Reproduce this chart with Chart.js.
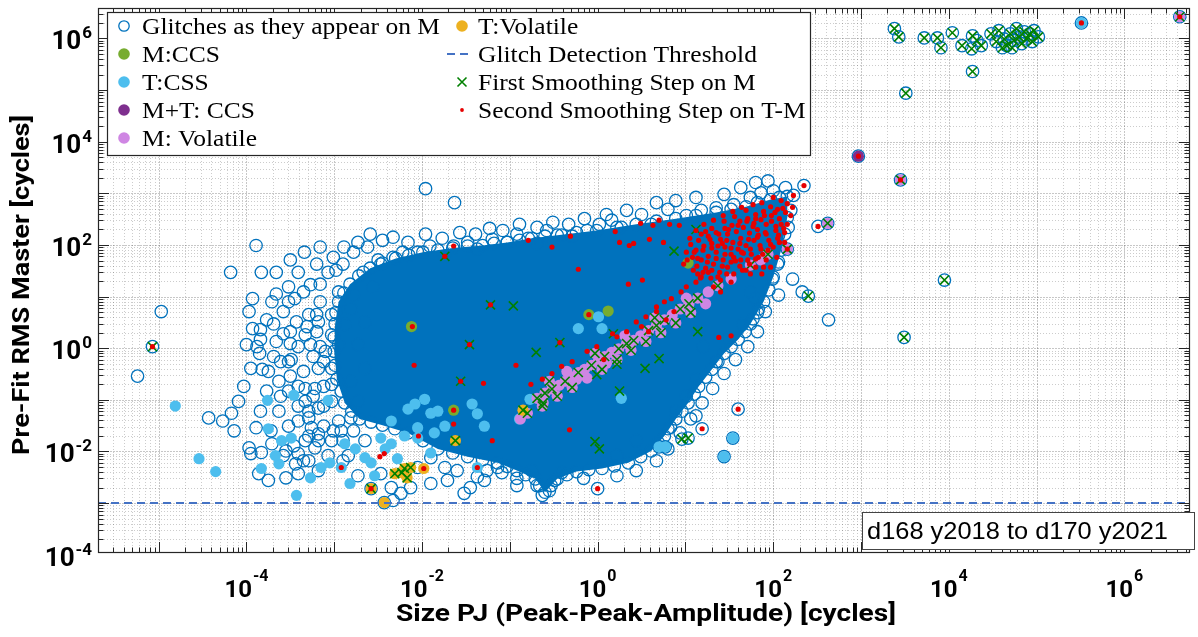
<!DOCTYPE html>
<html>
<head>
<meta charset="utf-8">
<script src="https://cdn.jsdelivr.net/npm/chart.js@4/dist/chart.umd.min.js"></script>
<style>
  html, body { margin: 0; padding: 0; background: #fff; }
  #c { display: block; }
</style>
</head>
<body>
<canvas id="c" width="1198" height="637"></canvas>
<script>
// Axis limits (cycles) and the fixed detection threshold
const sizeRange = [2.04e-6, 5.58e6];
const rmsRange = [1.08e-4, 3.89e6];
const thresholdRMS = 1e-3;
const decadeLabels = [-4, -2, 0, 2, 4, 6];

// All point lists are [log10(size PJ), log10(pre-fit RMS)] pairs.

// Outline of the dense core where the M glitches overlap into a solid mass
const denseCoreOutline = [
  [-2.95,0.90],[-2.82,1.24],[-2.59,1.55],[-2.30,1.74],[-1.99,1.86],[-1.65,1.94],[-1.31,1.99],
  [-1.03,2.05],[-0.75,2.13],[-0.46,2.19],[-0.01,2.28],[0.44,2.40],[0.89,2.51],[1.35,2.63],
  [1.69,2.74],[1.97,2.88],[2.16,2.94],[2.16,2.53],[2.09,1.90],[2.00,1.38],[1.89,0.90],
  [1.74,0.47],[1.60,0.17],[1.44,-0.10],[1.30,-0.41],[1.15,-0.74],[1.03,-1.06],[0.89,-1.37],
  [0.76,-1.70],[0.61,-1.99],[0.35,-2.22],[0.05,-2.33],[-0.24,-2.39],[-0.46,-2.53],[-0.60,-2.79],
  [-0.71,-2.53],[-0.92,-2.37],[-1.14,-2.22],[-1.48,-2.10],[-1.82,-1.95],[-2.16,-1.64],[-2.45,-1.49],
  [-2.71,-1.37],[-2.88,-1.06],[-2.97,-0.60],[-3.00,-0.06],[-2.99,0.47]
];

// Glitches as they appear on M (individually visible ones)
const glitchesOnM = [
  [-2.47,1.63],[-2.33,1.76],[-2.22,1.86],[-2.05,1.86],[-1.91,1.98],[-1.74,1.78],[-1.64,1.98],
  [-1.48,2.05],[-1.37,1.92],[-1.20,2.11],[-1.03,2.05],[-0.92,2.21],[-0.79,2.13],[-0.69,2.03],
  [-0.58,2.28],[-0.41,2.19],[-0.29,2.17],[-0.12,2.28],[0.02,2.40],[0.16,2.48],[0.27,2.34],
  [0.50,2.59],[0.61,2.40],[0.80,2.69],[1.01,2.57],[1.18,2.67],[1.35,2.72],[1.55,2.78],
  [1.74,2.92],[1.86,3.01],[2.00,3.05],[2.14,3.11],[2.35,3.15],[2.23,2.96],[2.20,2.67],
  [2.17,2.34],[2.06,2.19],[2.51,2.36],[2.06,1.67],[1.99,1.34],[2.22,1.34],[2.06,1.03],
  [1.80,0.96],[2.33,1.09],[2.63,0.55],[1.83,0.76],[1.77,0.57],[1.65,0.46],[1.49,0.19],
  [1.20,0.03],[1.35,-0.26],[1.12,-0.60],[1.01,-0.93],[0.89,-1.22],[0.80,-1.56],[-0.32,-1.58],
  [0.00,-2.72],[0.02,-1.95],[0.22,-2.08],[0.44,-1.79],[0.70,-1.91],[0.77,-1.91],[0.96,-1.76],
  [1.03,-1.74],[1.54,-1.74],[1.44,-2.10],[1.19,-1.56],[1.60,-1.18],[1.12,-1.31],[-0.69,-2.66],
  [-0.63,-2.85],[-0.55,-2.76],[-0.49,-2.56],[-0.75,-2.37],[-0.41,-2.41],[-0.92,-2.52],[-1.09,-2.41],
  [-1.26,-2.37],[-0.16,-2.52],[-2.47,-2.43],[-2.35,-2.70],[-2.24,-2.81],[-2.13,-2.70],[-1.90,-2.62],
  [-1.71,-2.56],[-1.52,-2.81],[-1.45,-2.70],[-1.29,-2.56],[-1.14,-2.31],[-1.74,-2.31],[-2.05,-2.31],
  [-1.90,-2.12],[-2.43,-2.99],[-2.58,-2.72],[-2.33,-2.95],[-3.97,-1.93],[-3.95,-2.04],[-3.83,-2.02],
  [-3.71,-1.85],[-3.55,-1.99],[-3.41,-2.04],[-3.44,-2.24],[-3.41,-2.43],[-3.29,-2.18],[-3.22,-1.93],
  [-3.18,-1.66],[-3.33,-1.79],[-3.26,-1.54],[-3.41,-1.41],[-3.29,-1.35],[-3.33,-1.03],[-3.18,-1.16],
  [-3.03,-1.03],[-3.03,-0.70],[-3.22,-0.78],[-3.33,-0.78],[-3.18,-0.39],[-3.03,-0.39],[-3.10,-0.06],
  [-2.95,0.07],[-3.03,0.26],[-3.18,0.51],[-3.03,0.65],[-2.88,0.46],[-2.81,0.76],[-2.65,0.51],
  [-2.73,0.07],[-2.65,-0.39],[-2.81,-0.64],[-2.73,-1.03],[-2.81,-1.35],[-2.92,-1.60],[-3.03,-1.79],
  [-2.65,-1.79],[-3.55,-2.51],[-3.86,-2.43],[-3.75,-2.56],[-4.97,0.71],[-5.24,-0.54],[-4.43,-1.35],
  [-4.27,-1.41],[-4.17,-1.26],[-3.93,0.38],[-3.84,0.36],[-4.00,0.07],[-3.88,0.03],[-3.85,-0.10],
  [-3.95,-0.39],[-3.82,-0.41],[-3.75,-0.45],[-3.63,-0.64],[-3.61,-0.26],[-3.50,0.09],[-3.49,-0.22],
  [-3.50,-0.54],[-3.71,0.90],[-3.29,0.65],[-3.31,0.42],[-3.33,0.26],[-3.27,0.07],[-3.20,0.65],
  [-3.89,-1.54],[-3.89,1.99],[-4.18,1.47],[-3.83,1.47],[-3.93,0.96],[-3.66,1.05],[-3.45,0.96],
  [-3.27,1.23],[-3.07,1.47],[-2.90,1.63],[-2.78,1.86],[-2.67,1.47],[-2.95,1.09],[-3.16,0.90],
  [-2.62,1.96],[-2.45,2.09],[-2.56,1.19],[-2.78,1.03],[-2.50,1.71],[-5.07,0.03],[2.11,6.13],
  [3.38,6.19],[3.43,6.03],[3.72,6.01],[3.87,6.01],[3.91,5.82],[4.04,6.11],[4.15,5.86],[4.26,5.80],
  [4.27,6.05],[4.32,5.96],[4.37,5.86],[4.48,6.09],[4.54,5.94],[4.57,6.15],[4.63,5.99],[4.66,5.86],
  [4.70,6.09],[4.74,5.96],[4.77,6.19],[4.80,6.03],[4.83,5.90],[4.86,6.13],[4.89,5.99],[4.92,6.09],
  [4.95,5.94],[4.97,6.15],[5.02,6.03],[4.72,5.82],[4.61,5.82],[4.27,5.36],[3.51,4.94],[5.51,6.30],
  [6.63,6.42],[2.97,3.72],[3.45,3.26],[2.62,2.42],[2.16,1.92],[2.40,1.01],[3.95,1.32],[3.49,0.21],
  [-3.52,1.19],[-3.41,1.47],[-3.20,1.63],[-3.01,1.76],[-2.89,1.96],[-2.73,2.05],[-2.59,2.21],
  [-2.33,2.15],[-2.16,2.05],[-1.96,2.21],[-1.77,2.13],[-1.57,2.24],[-1.39,2.21],[-1.23,2.32],
  [-1.08,2.28],[-0.89,2.40],[-0.69,2.34],[-0.51,2.44],[-0.33,2.40],[-0.15,2.51],[0.10,2.59],
  [0.33,2.67],[0.67,2.82],[0.89,2.86],[1.12,2.92],[1.44,2.98],[1.63,3.11],[1.80,3.21],[1.94,3.24],
  [-1.96,3.09],[-1.63,2.82],[-3.58,0.71],[-3.43,0.51],[-3.58,0.28],[-3.41,0.03],[-3.24,-0.16],
  [-3.12,-0.26],[-3.35,-0.45],[-3.52,-0.83],[-3.41,-1.12],[-3.24,-0.93],[-3.12,-0.74],[-2.95,-1.41],
  [-3.12,-1.51],[-3.29,-1.70],[-3.46,-1.89],[-3.63,-1.22],[-3.77,-0.83],[-3.69,-0.16],[-3.77,0.55],
  [-3.97,0.71],[-4.03,-0.74],[-4.09,-1.03],[-4.14,-1.60],[-3.84,-1.22],[-3.52,-1.51],[-2.90,-1.79],
  [-2.78,-1.60],[-3.07,-2.08],[-3.18,-2.37],[-2.90,-2.18],[-2.73,-2.47],
  [1.91,0.71],[1.82,0.32],[1.71,0.03],[1.57,-0.22],[1.44,-0.49],[1.31,-0.78],[1.19,-1.06],
  [1.06,-1.37],[0.94,-1.64],[0.80,-1.95],[0.67,-2.18],[0.44,-2.37],[0.22,-2.47],[1.74,1.09],
  [-1.60,-2.37],[-1.37,-2.49],[-0.92,-2.66],
  // along the edge of the dense core
  [-2.89,1.07],[-2.72,1.40],[-2.45,1.65],[-2.15,1.80],[-1.82,1.90],[-1.48,1.98],[-1.18,2.03],
  [-0.89,2.09],[-0.60,2.17],[-0.24,2.24],[0.22,2.34],[0.67,2.46],[1.12,2.57],[1.52,2.69],
  [1.82,2.82],[2.07,2.92],[-2.98,0.69],[-3.00,0.21],[-2.99,-0.33],[-2.92,-0.83],[-2.80,-1.22],
  [-2.58,-1.43],[-2.31,-1.56],[-1.99,-1.79],[-1.65,-2.03],[-1.31,-2.16],[-1.03,-2.29],[-0.82,-2.45],
  [-0.66,-2.66],[-0.53,-2.66],[-0.35,-2.45],[-0.10,-2.35],[0.19,-2.28],[0.49,-2.10],[0.69,-1.83],
  [0.83,-1.53],[0.96,-1.22],[1.10,-0.89],[1.23,-0.56],[1.37,-0.26],[1.52,0.03],[1.68,0.32],
  [1.82,0.69],[1.95,1.13],[2.05,1.63],[2.13,2.21],
  // loose left part of the cloud
  [-3.66,1.47],[-3.50,1.71],[-3.34,1.86],[-3.16,1.96],[-2.98,1.51],[-3.16,1.24],[-3.35,1.09],
  [-3.52,0.90],[-3.69,0.47],[-3.84,0.17],[-3.66,0.13],[-3.50,0.32],[-3.20,0.32],[-3.16,0.03],
  [-3.52,-0.26],[-3.41,-0.74],[-3.61,-0.93],[-3.29,-1.22],[-3.12,-1.12],[-3.72,-1.60],[-3.58,-2.08],
  [-3.35,-2.18],[-3.18,-1.79],[-3.01,-1.60],[-2.84,-2.08]
];

const mCCS = [[-2.12,0.42],[-1.64,-1.20],[-0.10,0.65],[0.12,0.72],[1.03,1.65]];

const tCSS = [
  [-4.81,-1.12],[-4.54,-2.14],[-4.35,-2.39],[-3.76,-1.01],[-3.46,-0.91],[-3.07,-1.01],[-3.83,-2.33],
  [-3.63,-2.24],[-3.67,-2.08],[-3.60,-1.79],[-3.49,-1.74],[-3.75,-1.56],[-3.43,-2.85],[-3.27,-2.51],
  [-3.15,-2.31],[-3.05,-2.22],[-2.82,-2.62],[-1.37,-2.31],[-1.29,-1.51],[-1.43,-1.08],[-1.37,-1.27],
  [-2.16,-1.18],[-2.08,-1.08],[-1.97,-0.99],[-1.90,-1.26],[-1.82,-1.22],[-2.35,-1.41],[-2.05,-1.54],
  [-2.20,-1.70],[-2.05,-1.74],[-1.86,-1.64],[-1.74,-1.51],[-1.90,-2.03],[-2.88,-1.85],[-2.76,-1.95],
  [-2.65,-2.12],[-2.58,-2.22],[-2.42,-1.95],[-2.35,-1.85],[-2.28,-2.14],[-2.54,-2.47],[-2.92,-2.31],
  [-2.47,-1.74],[-0.22,0.38],[0.01,0.61],[0.05,0.38],[-0.77,-0.99],[0.27,-0.97],[5.51,6.30],
  [0.70,-1.91],[0.77,-1.91],[1.54,-1.74],[1.44,-2.10],[-0.89,-1.37]
];

const mtCCS = [[2.97,3.72]];

const mVolatile = [
  [-0.69,-0.97],[-0.60,-0.87],[-0.52,-0.79],[-0.44,-0.72],[-0.37,-0.64],[-0.29,-0.56],[-0.22,-0.47],
  [-0.15,-0.41],[-0.07,-0.33],[0.01,-0.24],[0.08,-0.16],[0.16,-0.08],[0.24,-0.01],[0.33,0.09],
  [0.41,0.15],[0.49,0.24],[0.58,0.34],[0.67,0.44],[0.76,0.55],[0.85,0.65],[0.94,0.76],[1.04,0.86],
  [1.14,0.97],[1.26,1.09],[1.37,1.21],[1.52,1.34],[1.74,1.61],[1.86,1.71],[1.94,1.82],[-0.62,-1.06],
  [-0.24,-0.60],[0.10,-0.29],[2.62,2.42],[2.16,1.92],[6.63,6.42],[3.45,3.26],
  [-0.63,-1.12],[-0.46,-0.93],[-0.29,-0.76],[-0.12,-0.58],[0.05,-0.41],[0.22,-0.22],[0.38,-0.04],
  [0.55,0.13],[0.72,0.30],[0.89,0.49],[1.06,0.69],[1.23,0.86],[-0.80,-1.26],[-0.88,-1.37],
  [-0.55,-0.64],[-0.35,-0.45],[-0.03,-0.10],[0.31,0.24],[0.65,0.59],[1.01,0.97]
];

const tVolatile = [
  [-2.58,-2.72],[-2.43,-2.99],[-2.31,-2.43],[-2.23,-2.41],[-2.17,-2.51],[-2.13,-2.31],[-2.20,-2.33],
  [-1.98,-2.33],[-1.62,-1.79],[-0.85,-1.20]
];

const firstSmoothing = [
  [3.38,6.19],[3.43,6.03],[3.72,6.01],[3.87,6.01],[3.91,5.82],[4.04,6.11],[4.15,5.86],[4.26,5.80],
  [4.27,6.05],[4.32,5.96],[4.37,5.86],[4.48,6.09],[4.54,5.94],[4.57,6.15],[4.63,5.99],[4.66,5.86],
  [4.70,6.09],[4.74,5.96],[4.77,6.19],[4.80,6.03],[4.83,5.90],[4.86,6.13],[4.89,5.99],[4.92,6.09],
  [4.95,5.94],[4.97,6.15],[5.02,6.03],[4.72,5.82],[4.61,5.82],[4.27,5.36],[3.51,4.94],[6.63,6.42],
  [3.45,3.26],[2.11,6.13],[-5.07,0.03],[2.62,2.42],[2.16,1.92],[2.40,1.01],[3.95,1.32],[3.49,0.21],
  [1.12,2.30],[0.87,1.88],[-0.70,-0.08],[-0.43,0.11],[0.18,0.28],[1.14,0.32],[0.70,-0.20],
  [0.54,-0.39],[0.22,-0.31],[-0.01,-0.51],[0.25,-0.83],[-0.69,-0.97],[-0.52,-0.79],[-0.37,-0.64],
  [-0.22,-0.47],[-0.07,-0.33],[0.08,-0.16],[0.24,-0.01],[0.41,0.15],[0.58,0.34],[0.76,0.55],
  [0.94,0.76],[1.14,0.97],[1.37,1.21],[1.74,1.61],[1.94,1.82],[-0.60,-0.87],[0.33,0.09],[0.67,0.44],
  [1.04,0.86],[-0.62,-1.06],[-1.22,0.84],[-1.46,0.07],[-1.56,-0.64],[-1.74,1.78],[-0.96,0.82],
  [-2.58,-2.72],[-2.31,-2.43],[-2.23,-2.41],[-2.17,-2.51],[-2.13,-2.31],[-2.20,-2.33],[-1.62,-1.79],
  [-0.85,-1.20],[-0.03,-1.81],[0.02,-1.95],[0.96,-1.76],[1.03,-1.74],
  [-0.63,-1.12],[-0.29,-0.76],[0.05,-0.41],[0.38,-0.04],[0.72,0.30],[1.06,0.69],[-0.80,-1.26],
  [-0.46,-0.93],[0.22,-0.22],[0.55,0.13],[0.89,0.49],[-0.55,-0.64],[-0.03,-0.10],[0.65,0.59]
];

const secondSmoothing = [
  [2.09,2.86],[2.16,2.80],[1.97,2.74],[2.05,2.69],[2.14,2.63],[1.89,2.65],[1.80,2.59],[1.98,2.57],
  [2.07,2.51],[1.71,2.51],[1.86,2.49],[1.62,2.46],[1.78,2.42],[1.92,2.40],[2.03,2.36],[1.53,2.38],
  [1.66,2.34],[1.45,2.32],[1.82,2.30],[1.58,2.26],[1.73,2.23],[1.35,2.24],[1.48,2.21],[1.91,2.24],
  [1.26,2.17],[1.63,2.13],[1.40,2.11],[1.78,2.09],[1.15,2.09],[1.54,2.05],[1.30,2.03],[1.69,1.99],
  [1.21,1.98],[1.45,1.96],[1.60,1.92],[1.12,1.90],[1.35,1.86],[1.52,1.82],[1.26,1.78],[1.66,1.84],
  [1.43,1.71],[1.18,1.71],[1.57,1.69],[1.32,1.63],[1.48,1.57],[1.23,1.55],[1.39,1.47],[1.55,1.44],
  [1.29,1.36],[1.74,1.92],[1.85,1.99],[1.95,2.09],[2.00,1.96],[1.88,1.82],[1.80,1.73],[1.08,1.76],
  [1.13,1.59],[1.62,1.59],[1.71,1.71],[1.83,2.19],[1.30,2.32],[1.44,2.46],[1.56,2.55],[1.69,2.67],
  [1.06,2.01],[1.37,1.98],[1.47,2.09],[1.23,2.26],[1.77,2.36],[1.98,2.46],[2.09,2.40],[2.13,2.24],
  [1.94,1.90],[1.65,1.51],[1.52,1.28],[1.40,1.32],[1.14,1.44],[0.98,1.63],[1.01,1.86],[2.05,2.13],
  [2.22,2.73],[1.89,1.57],[1.74,1.44],
  [1.18,2.21],[1.28,2.11],[1.38,2.21],[1.49,2.30],[1.60,2.38],[1.70,2.46],[1.80,2.51],[1.90,2.57],
  [2.02,2.63],[2.11,2.71],[1.10,1.86],[1.20,1.90],[1.30,1.94],[1.42,2.03],[1.52,1.94],[1.62,2.03],
  [1.72,2.11],[1.82,2.15],[1.92,2.21],[2.03,2.28],[2.12,2.32],[1.14,1.74],[1.25,1.67],[1.35,1.74],
  [1.45,1.82],[1.55,1.76],[1.64,1.86],[1.75,1.82],[1.86,1.92],[1.97,2.01],[2.07,2.05],[1.20,1.47],
  [1.30,1.51],[1.42,1.59],[1.52,1.67],[1.63,1.71],[1.73,1.63],[1.83,1.76],[1.92,1.71],[1.37,1.38],
  [1.47,1.44],[1.69,1.51],[1.80,1.57],[1.05,2.13],[1.12,2.28],[1.21,2.40],[1.32,2.48],[1.43,2.57],
  [1.54,2.65],[1.64,2.73],[1.77,2.78],[1.87,2.82],[2.00,2.92],[1.02,1.71],[1.09,1.51],[1.17,1.36],
  [1.87,1.44],[1.97,1.57],[2.04,1.76],[2.13,2.05],[2.16,2.40],[2.20,2.57],
  [-0.79,2.09],[-0.52,1.96],[-0.31,2.17],[0.20,2.26],[0.49,2.42],[0.70,2.48],[0.82,2.40],[0.93,2.38],
  [0.63,2.38],[0.75,2.05],[0.59,2.11],[0.41,2.03],[0.36,1.99],[0.25,2.05],[-0.22,1.53],[0.35,1.24],
  [0.51,1.32],[-0.10,0.65],[0.17,0.28],[-0.43,0.11],[-0.93,-0.33],[-0.76,-0.70],[1.38,0.21],
  [1.52,0.24],[0.07,-0.22],[2.35,3.15],[2.23,2.96],[2.51,2.36],[2.06,2.19],[2.16,1.92],
  [0.44,0.51],[0.55,0.61],[0.67,0.80],[0.76,0.90],[0.84,0.96],[0.95,1.09],[1.01,1.19],[1.12,1.28],
  [1.18,1.38],[1.26,1.47],[0.67,0.71],[0.50,0.42],[0.33,0.32],[0.22,0.22],[-0.01,0.03],[-0.12,-0.06],
  [-0.29,-0.26],[-0.41,-0.35],[-0.52,-0.49],[-0.63,-0.60],[1.32,1.19],[1.40,1.09],[0.87,0.71],
  [0.78,0.55],[0.58,0.32],
  [-2.11,0.42],[-2.09,-0.33],[-1.30,-0.68],[-2.04,-1.70],[-2.48,-2.10],[-2.43,-2.04],[-2.92,-2.31],
  [-1.64,-1.47],[-1.20,-1.79],[-1.37,-2.31],[-2.58,-2.72],[-1.98,-2.33],[-1.64,-1.20],[-5.07,0.03],
  [-1.46,0.07],[-1.56,-0.64],[-1.22,0.84],
  [5.51,6.30],[6.63,6.42],[2.97,3.72],[3.45,3.26],[0.00,-2.72],[-0.32,-1.58],[1.19,-1.56],
  [1.60,-1.18],[-1.74,1.78],[-1.64,1.98]
];

const pts = list => list.map(([lx, ly]) => ({ x: Math.pow(10, lx), y: Math.pow(10, ly) }));

const COLORS = {
  glitch: '#0072BD', mccs: '#77AC30', tcss: '#4DBEEE', mtccs: '#7E2F8E',
  mvol: '#CF86E3', tvol: '#EDB120', thr: '#4472C4', first: '#008000', second: '#E60000'
};
const SANS = 'Roboto, "Liberation Sans", sans-serif';
const SERIF = '"Liberation Serif", "DejaVu Serif", serif';

function eachLogTick(min, max, fn) {
  const lo = Math.floor(Math.log10(min)), hi = Math.ceil(Math.log10(max));
  for (let e = lo; e <= hi; e++) {
    for (let k = 1; k <= 9; k++) {
      const v = k * Math.pow(10, e);
      if (v >= min * 0.999 && v <= max * 1.001) fn(v, k === 1);
    }
  }
}

function drawMarker(ctx, kind, x, y) {
  ctx.save();
  if (kind === 'open') {
    ctx.strokeStyle = COLORS.glitch; ctx.lineWidth = 1.3;
    ctx.beginPath(); ctx.arc(x, y, 5.2, 0, Math.PI * 2); ctx.stroke();
  } else if (kind === 'x') {
    ctx.strokeStyle = COLORS.first; ctx.lineWidth = 1.6;
    ctx.beginPath(); ctx.moveTo(x - 4.5, y - 4.5); ctx.lineTo(x + 4.5, y + 4.5);
    ctx.moveTo(x + 4.5, y - 4.5); ctx.lineTo(x - 4.5, y + 4.5); ctx.stroke();
  } else if (kind === 'dot') {
    ctx.fillStyle = COLORS.second;
    ctx.beginPath(); ctx.arc(x, y, 1.9, 0, Math.PI * 2); ctx.fill();
  } else if (kind === 'dash') {
    ctx.strokeStyle = COLORS.thr; ctx.lineWidth = 2; ctx.setLineDash([8, 5]);
    ctx.beginPath(); ctx.moveTo(x - 15, y); ctx.lineTo(x + 8, y); ctx.stroke();
  } else {
    ctx.fillStyle = kind;
    ctx.beginPath(); ctx.arc(x, y, 5.8, 0, Math.PI * 2); ctx.fill();
  }
  ctx.restore();
}

const framePlugin = {
  id: 'frame',
  beforeDraw(chart) {
    const ctx = chart.ctx;
    ctx.save(); ctx.fillStyle = '#fff'; ctx.fillRect(0, 0, chart.width, chart.height); ctx.restore();
  },
  beforeDatasetsDraw(chart) {
    const { ctx, chartArea: a, scales: { x, y } } = chart;
    ctx.save();
    ctx.beginPath(); ctx.rect(a.left, a.top, a.right - a.left, a.bottom - a.top); ctx.clip();
    // grid: decades and 2..9 subdivisions
    ctx.lineWidth = 1;
    eachLogTick(sizeRange[0], sizeRange[1], (v, major) => {
      const px = Math.round(x.getPixelForValue(v)) + 0.5;
      ctx.strokeStyle = major ? 'rgba(0,0,0,0.22)' : 'rgba(0,0,0,0.2)';
      ctx.setLineDash(major ? [2, 1] : [1, 2]);
      ctx.beginPath(); ctx.moveTo(px, a.top); ctx.lineTo(px, a.bottom); ctx.stroke();
    });
    eachLogTick(rmsRange[0], rmsRange[1], (v, major) => {
      const py = Math.round(y.getPixelForValue(v)) + 0.5;
      ctx.strokeStyle = major ? 'rgba(0,0,0,0.22)' : 'rgba(0,0,0,0.2)';
      ctx.setLineDash(major ? [2, 1] : [1, 2]);
      ctx.beginPath(); ctx.moveTo(a.left, py); ctx.lineTo(a.right, py); ctx.stroke();
    });
    ctx.setLineDash([]);
    // solid core of overlapping glitch markers
    const core = chart.getDatasetMeta(0).data;
    ctx.fillStyle = COLORS.glitch;
    ctx.beginPath();
    core.forEach((p, i) => { if (i === 0) ctx.moveTo(p.x, p.y); else ctx.lineTo(p.x, p.y); });
    ctx.closePath(); ctx.fill();
    ctx.restore();
  },
  afterDatasetsDraw(chart) {
    const { ctx, chartArea: a, scales: { x, y } } = chart;
    ctx.save();
    // axis box and inward tick marks on all four sides
    ctx.strokeStyle = '#262626'; ctx.lineWidth = 1;
    eachLogTick(sizeRange[0], sizeRange[1], (v, major) => {
      const px = Math.round(x.getPixelForValue(v)) + 0.5, L = major ? 11 : 5.5;
      ctx.beginPath(); ctx.moveTo(px, a.bottom); ctx.lineTo(px, a.bottom - L);
      ctx.moveTo(px, a.top); ctx.lineTo(px, a.top + L); ctx.stroke();
    });
    eachLogTick(rmsRange[0], rmsRange[1], (v, major) => {
      const py = Math.round(y.getPixelForValue(v)) + 0.5, L = major ? 11 : 5.5;
      ctx.beginPath(); ctx.moveTo(a.left, py); ctx.lineTo(a.left + L, py);
      ctx.moveTo(a.right, py); ctx.lineTo(a.right - L, py); ctx.stroke();
    });
    ctx.lineWidth = 1.2;
    ctx.strokeRect(a.left + 0.5, a.top + 0.5, a.right - a.left - 1, a.bottom - a.top - 1);

    // decade tick labels 10^n
    ctx.fillStyle = '#000'; ctx.textBaseline = 'alphabetic';
    decadeLabels.forEach(e => {
      const sup = String(e);
      // y axis
      const py = y.getPixelForValue(Math.pow(10, e));
      ctx.font = 'bold 17px ' + SANS; const sw = ctx.measureText(sup).width;
      ctx.textAlign = 'right'; ctx.fillText(sup, 92, py);
      ctx.font = 'bold 26px ' + SANS; ctx.fillText('10', 92 - sw - 1, py + 11);
      // x axis
      const px = x.getPixelForValue(Math.pow(10, e));
      ctx.font = 'bold 24px ' + SANS; const bw = ctx.measureText('10').width;
      ctx.font = 'bold 16px ' + SANS; const sw2 = ctx.measureText(sup).width;
      const left = px - (bw + sw2 + 1) / 2;
      ctx.textAlign = 'left';
      ctx.font = 'bold 24px ' + SANS; ctx.fillText('10', left, 597);
      ctx.font = 'bold 16px ' + SANS; ctx.fillText(sup, left + bw + 1, 581);
    });

    // axis titles
    ctx.font = 'bold 23px ' + SANS; ctx.textAlign = 'center';
    const xt = 'Size PJ (Peak-Peak-Amplitude) [cycles]';
    let s = 500 / ctx.measureText(xt).width;
    ctx.save(); ctx.translate(646, 621); ctx.scale(s, 1); ctx.fillText(xt, 0, 0); ctx.restore();
    const yt = 'Pre-Fit RMS Master [cycles]';
    s = 340 / ctx.measureText(yt).width;
    ctx.save(); ctx.translate(29, 285); ctx.rotate(-Math.PI / 2); ctx.scale(s, 1); ctx.fillText(yt, 0, 0); ctx.restore();

    // legend
    ctx.fillStyle = '#fff'; ctx.fillRect(107, 12, 703, 143);
    ctx.strokeStyle = '#262626'; ctx.lineWidth = 1.2; ctx.strokeRect(107.5, 12.5, 703, 143);
    const rows = [
      [124, 26, 'open', 'Glitches as they appear on M'],
      [124, 54, COLORS.mccs, 'M:CCS'],
      [124, 82, COLORS.tcss, 'T:CSS'],
      [124, 110, COLORS.mtccs, 'M+T: CCS'],
      [124, 138, COLORS.mvol, 'M: Volatile'],
      [462, 26, COLORS.tvol, 'T:Volatile'],
      [462, 54, 'dash', 'Glitch Detection Threshold'],
      [462, 82, 'x', 'First Smoothing Step on M'],
      [462, 110, 'dot', 'Second Smoothing Step on T-M']
    ];
    ctx.font = '23px ' + SERIF;
    const ls = 298 / ctx.measureText(rows[0][3]).width;
    rows.forEach(([mx, my, kind, text]) => {
      drawMarker(ctx, kind, mx, my);
      ctx.save(); ctx.fillStyle = '#000'; ctx.textAlign = 'left'; ctx.textBaseline = 'alphabetic';
      ctx.translate(mx + (mx < 300 ? 18 : 16), my + 8); ctx.scale(ls, 1); ctx.fillText(text, 0, 0);
      ctx.restore();
    });

    // period annotation
    ctx.fillStyle = '#fff'; ctx.fillRect(862, 512, 332, 37);
    ctx.strokeStyle = '#444'; ctx.lineWidth = 1; ctx.strokeRect(862.5, 512.5, 332, 37);
    ctx.fillStyle = '#000'; ctx.font = '24px "Liberation Sans", Arial, sans-serif';
    const at = 'd168 y2018 to d170 y2021';
    s = 301 / ctx.measureText(at).width;
    ctx.save(); ctx.translate(867, 539); ctx.scale(s, 1); ctx.textAlign = 'left'; ctx.fillText(at, 0, 0); ctx.restore();
    ctx.restore();
  }
};

const filled = (label, data, color, order) => ({
  label, data: pts(data), pointStyle: 'circle', pointRadius: 5.6, borderWidth: 0,
  backgroundColor: color, order
});

new Chart(document.getElementById('c'), {
  type: 'scatter',
  data: {
    datasets: [
      { label: 'core', data: pts(denseCoreOutline), pointStyle: 'circle', pointRadius: 6.2,
        borderColor: COLORS.glitch, borderWidth: 1.3, backgroundColor: 'rgba(0,0,0,0)',
        showLine: false, order: 30 },
      { label: 'Glitches as they appear on M', data: pts(glitchesOnM), pointStyle: 'circle',
        pointRadius: 6.2, borderColor: COLORS.glitch, borderWidth: 1.3,
        backgroundColor: 'rgba(0,0,0,0)', order: 29 },
      filled('M:CCS', mCCS, COLORS.mccs, 28),
      filled('T:CSS', tCSS, COLORS.tcss, 27),
      filled('M+T: CCS', mtCCS, COLORS.mtccs, 26),
      filled('M: Volatile', mVolatile, COLORS.mvol, 25),
      filled('T:Volatile', tVolatile, COLORS.tvol, 24),
      { label: 'Glitch Detection Threshold',
        data: [{ x: sizeRange[0], y: thresholdRMS }, { x: sizeRange[1], y: thresholdRMS }],
        showLine: true, pointRadius: 0, borderColor: COLORS.thr, borderWidth: 2,
        borderDash: [8, 5], order: 23 },
      { label: 'First Smoothing Step on M', data: pts(firstSmoothing), pointStyle: 'crossRot',
        pointRadius: 6.4, borderColor: COLORS.first, borderWidth: 1.6,
        backgroundColor: COLORS.first, order: 22 },
      { label: 'Second Smoothing Step on T-M', data: pts(secondSmoothing), pointStyle: 'circle',
        pointRadius: 2.6, borderWidth: 0, backgroundColor: COLORS.second, order: 21 }
    ]
  },
  options: {
    responsive: false, animation: false, devicePixelRatio: 1, events: [],
    layout: { padding: { top: 4, right: 1, left: 0, bottom: 0 } },
    plugins: { legend: { display: false }, tooltip: { enabled: false } },
    scales: {
      x: { type: 'logarithmic', min: sizeRange[0], max: sizeRange[1],
           ticks: { display: false }, grid: { display: false }, border: { display: false },
           afterFit(scale) { scale.height = 84; } },
      y: { type: 'logarithmic', min: rmsRange[0], max: rmsRange[1],
           ticks: { display: false }, grid: { display: false }, border: { display: false },
           afterFit(scale) { scale.width = 98; } }
    }
  },
  plugins: [framePlugin]
});
</script>
</body>
</html>
